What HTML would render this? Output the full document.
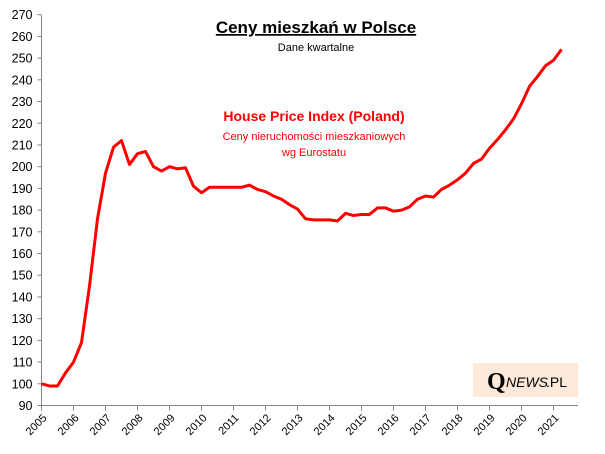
<!DOCTYPE html>
<html><head><meta charset="utf-8"><style>
body{margin:0;background:#fff;}
svg{display:block;font-family:"Liberation Sans",sans-serif;}
</style></head><body>
<svg width="605" height="454">
<g id="axes"></g>
<text x="316" y="33" text-anchor="middle" font-size="17" font-weight="bold" text-decoration="underline">Ceny mieszkań w Polsce</text>
<text x="316" y="51" text-anchor="middle" font-size="11">Dane kwartalne</text>
<text x="314" y="121" text-anchor="middle" font-size="14" font-weight="bold" fill="#ff0000">House Price Index (Poland)</text>
<text x="314" y="140" text-anchor="middle" font-size="11" fill="#ff0000">Ceny nieruchomości mieszkaniowych</text>
<text x="314" y="156" text-anchor="middle" font-size="11" fill="#ff0000">wg Eurostatu</text>
<g>
<rect x="473" y="363" width="105" height="34" fill="#fde9d9"/>
<text x="487" y="389" font-family="Liberation Serif,serif" font-size="24" font-weight="bold">Q</text>
<text x="506" y="387" font-size="14" font-style="italic">NEWS</text>
<text x="546" y="387" font-size="14">.PL</text>
</g>
</svg>
<script>
const years=["2005","2006","2007","2008","2009","2010","2011","2012","2013","2014","2015","2016","2017","2018","2019","2020","2021"];
const yTicks=[90,100,110,120,130,140,150,160,170,180,190,200,210,220,230,240,250,260,270];
const hpi=[100,99,99,105,110,119,145,176,197,209,212,201,206,207,200,198,200,199,199.5,191,188,190.5,190.5,190.5,190.5,190.5,191.5,189.5,188.5,186.5,185,182.5,180.5,176,175.5,175.5,175.5,175,178.5,177.5,178,178,181,181,179.5,180,181.5,185,186.5,186,189.5,191.5,194,197,201.5,203.5,208.5,212.5,217,222,229,237,241.5,246.5,249,254];
const g=document.getElementById('axes');
const NS='http://www.w3.org/2000/svg';
const x0=41.5,yrW=32,yB=405.5,yT=14.7;
const xq=i=>x0+i*yrW/4;
const y=v=>yB-(v-90)/(270-90)*(yB-yT);
function mk(t,a){const e=document.createElementNS(NS,t);for(const k in a)e.setAttribute(k,a[k]);g.appendChild(e);return e;}
let e=mk('line',{x1:x0,y1:yT,x2:x0,y2:yB,stroke:'#868686'});


e=mk('line',{x1:x0,y1:yB,x2:578,y2:yB,stroke:'#868686'});


yTicks.forEach(v=>{
 mk('line',{x1:x0-4,y1:y(v),x2:x0,y2:y(v),stroke:'#868686'});
 const t=mk('text',{x:x0-9,y:y(v)+4.5,'text-anchor':'end','font-size':'12.5'});t.textContent=v;
 
 
});
years.forEach((yr,i)=>{
 const x=x0+i*yrW;
 mk('line',{x1:x,y1:yB,x2:x,y2:yB+5,stroke:'#868686'});
 const t=mk('text',{x:x+6,y:yB+13,'text-anchor':'end','font-size':'11',transform:`rotate(-45 ${x+6} ${yB+13})`});t.textContent=yr;
 
 
});
const p=mk('polyline',{points:hpi.map((v,i)=>xq(i)+','+y(v)).join(' '),fill:'none',stroke:'#ff0000','stroke-width':3,'stroke-linejoin':'round'});


</script>
</body></html>
